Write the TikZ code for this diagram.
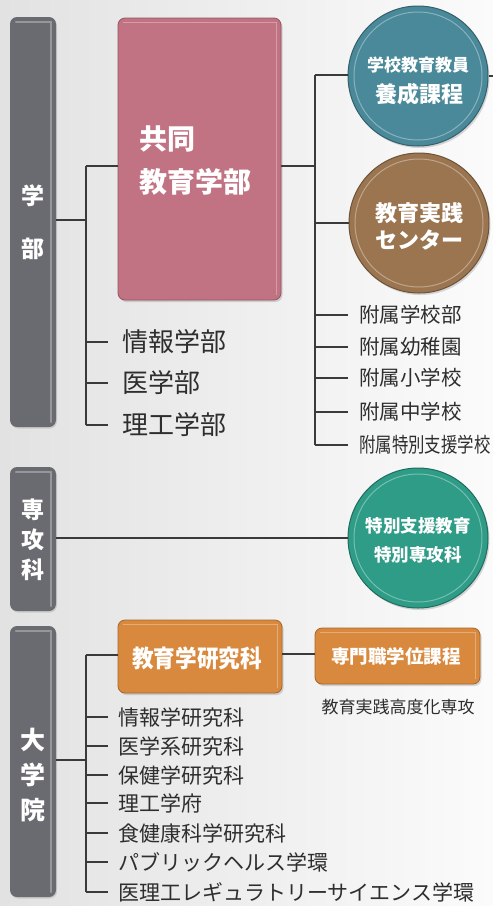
\documentclass[tikz,border=0pt]{standalone}
\usepackage{fontspec}
\setmainfont{Noto Sans CJK JP}
\usetikzlibrary{shadows}
\definecolor{bargray}{HTML}{6A6B70}
\definecolor{pinkc}{HTML}{C17383}
\definecolor{tealc}{HTML}{4A8999}
\definecolor{brownc}{HTML}{9B7550}
\definecolor{greenc}{HTML}{2E9C86}
\definecolor{orangec}{HTML}{D9893E}
\definecolor{linec}{HTML}{3A3A3A}
\definecolor{textc}{HTML}{2E2E2E}
\definecolor{bgl}{HTML}{E2E2E2}
\definecolor{bgr}{HTML}{FBFBFB}
\newcommand{\fs}[2]{\fontsize{#1}{#2}\selectfont}
\begin{document}
\begin{tikzpicture}[x=1pt,y=-1pt,
  conn/.style={draw=linec, line width=1.1pt},
  barbox/.style={fill=bargray, rounded corners=7pt, minimum width=46pt, inner sep=0pt,
    drop shadow={shadow xshift=1pt, shadow yshift=-1.5pt, opacity=0.25}},
  bartext/.style={text=white, align=center, inner sep=0pt},
  hl/.style={draw=white, draw opacity=0.3, line width=1.6pt, line cap=round},
  sq/.style={rounded corners=7pt, inner sep=0pt,
    drop shadow={shadow xshift=1.5pt, shadow yshift=-2pt, opacity=0.3}},
  ball/.style={circle, minimum size=140pt, inner sep=0pt,
    drop shadow={shadow xshift=1.5pt, shadow yshift=-2pt, opacity=0.3}},
  ring/.style={draw=white, draw opacity=0.35, line width=1pt},
  balltext/.style={text=white, align=center, inner sep=0pt},
  item/.style={anchor=west, inner sep=0pt, text=textc}
]
% background
\shade[left color=bgl, right color=bgr] (0,0) rectangle (493,906);
\useasboundingbox (0,0) rectangle (493,906);

% ---------- 学部 ----------
\node[barbox, minimum height=410pt] (gakubu) at (33,222) {};
\draw[hl] ([xshift=6pt,yshift=-5pt]gakubu.north west) -- ([xshift=-5pt,yshift=-5pt]gakubu.north east) -- ([xshift=-5pt,yshift=5pt]gakubu.south east);
\node[bartext, font=\fs{23}{53}\bfseries] (gakubut) at (33,222) {学\\部};

\node[sq, fill=pinkc, draw=pinkc!75!black, line width=0.8pt, minimum width=163pt, minimum height=282pt] (kyodo) at (199.5,159) {};
\draw[hl] ([xshift=6pt,yshift=-5pt]kyodo.north west) -- ([xshift=-5pt,yshift=-5pt]kyodo.north east) -- ([xshift=-5pt,yshift=6pt]kyodo.south east);
\node[anchor=west, align=left, inner sep=0pt, text=white, font=\fs{28}{43}\bfseries] (kyodot) at (139,161) {共同\\教育学部};

\coordinate (s1t) at (86,166);
\coordinate (s1b) at (86,425);
\draw[conn] (gakubu.east |- 0,220) -- (s1t |- 0,220);
\draw[conn] (s1t) -- (s1b);
\draw[conn] (s1t) -- (kyodo.west |- s1t);

\node[item, font=\fs{26}{26}] (joho) at (122,342) {情報学部};
\node[item, font=\fs{26}{26}] (igaku) at (122,383) {医学部};
\node[item, font=\fs{26}{26}] (riko) at (122,425) {理工学部};
\foreach \n in {joho,igaku,riko} \draw[conn] (s1t |- \n.west) -- ++(22,0);

% right spine
\coordinate (s2t) at (315,75);
\coordinate (s2b) at (315,445);
\draw[conn] (kyodo.east |- s1t) -- (s1t -| s2t);
\draw[conn] (s2t) -- (s2b);

\node[ball, fill=tealc, draw=tealc!70!black, line width=1pt] (teal) at (418,76) {};
\draw[ring] (teal.center) circle[radius=64];
\node[balltext, font=\fs{17}{17}\bfseries] (tealt1) at (418,65) {学校教育教員};
\node[balltext, font=\fs{22}{22}\bfseries] (tealt2) at (419,94) {養成課程};
\coordinate (redge) at (493,76);
\draw[conn] (s2t) -- (teal.west |- s2t);
\draw[conn] (teal.east) -- (redge);

\node[ball, fill=brownc, draw=brownc!70!black, line width=1pt] (brown) at (419,223) {};
\draw[ring] (brown.center) circle[radius=64];
\node[balltext, font=\fs{22}{27}\bfseries] (brownt) at (419,226) {教育実践\\センター};
\draw[conn] (s2t |- brown.west) -- (brown.west);

\node[item, font=\fs{20.5}{20}] (f1) at (359,315) {附属学校部};
\node[item, font=\fs{20.5}{20}] (f2) at (359,347) {附属幼稚園};
\node[item, font=\fs{20.5}{20}] (f3) at (359,378) {附属小学校};
\node[item, font=\fs{20.5}{20}] (f4) at (359,412) {附属中学校};
\node[item, font=\fs{20.5}{20}] (f5) at (359,445) {\scalebox{0.8}[1]{附属特別支援学校}};
\foreach \n in {f1,f2,f3,f4,f5} \draw[conn] (s2t |- \n.west) -- ++(33,0);

% ---------- 専攻科 ----------
\node[barbox, minimum height=144pt] (senko) at (33,539) {};
\draw[hl] ([xshift=6pt,yshift=-5pt]senko.north west) -- ([xshift=-5pt,yshift=-5pt]senko.north east) -- ([xshift=-5pt,yshift=5pt]senko.south east);
\node[bartext, font=\fs{23}{30}\bfseries] (senkot) at (33,540) {専\\攻\\科};

\node[ball, fill=greenc, draw=greenc!70!black, line width=1pt] (green) at (418,538) {};
\draw[ring] (green.center) circle[radius=64];
\node[balltext, font=\fs{17.5}{29}\bfseries] (greent) at (418,540) {特別支援教育\\特別専攻科};
\draw[conn] (senko.east |- green.west) -- (green.west);

% ---------- 大学院 ----------
\node[barbox, minimum height=271pt] (daigakuin) at (33,761.5) {};
\draw[hl] ([xshift=6pt,yshift=-5pt]daigakuin.north west) -- ([xshift=-5pt,yshift=-5pt]daigakuin.north east) -- ([xshift=-5pt,yshift=5pt]daigakuin.south east);
\node[bartext, font=\fs{25}{35}\bfseries] (daigakuint) at (33,775) {大\\学\\院};

\node[sq, fill=orangec, draw=orangec!75!black, line width=0.8pt, minimum width=164pt, minimum height=73pt] (kyoken) at (200,656.5) {};
\draw[hl] ([xshift=6pt,yshift=-5pt]kyoken.north west) -- ([xshift=-5pt,yshift=-5pt]kyoken.north east) -- ([xshift=-5pt,yshift=6pt]kyoken.south east);
\node[text=white, inner sep=0pt, font=\fs{24}{24}\bfseries] (kyokent) at (197,658) {\scalebox{0.9}[1]{教育学研究科}};

\node[sq, fill=orangec, draw=orangec!75!black, line width=0.8pt, minimum width=165pt, minimum height=56pt] (senmon) at (397.5,656) {};
\draw[hl] ([xshift=6pt,yshift=-5pt]senmon.north west) -- ([xshift=-5pt,yshift=-5pt]senmon.north east) -- ([xshift=-5pt,yshift=6pt]senmon.south east);
\node[text=white, inner sep=0pt, font=\fs{18.5}{18.5}\bfseries] (senmont) at (396,656) {専門職学位課程};
\node[inner sep=0pt, text=textc, font=\fs{17}{17}] (kodoka) at (398,707) {教育実践高度化専攻};
\draw[conn] (kyoken.east |- 0,654) -- (senmon.west |- 0,654);

\coordinate (s3t) at (86,655);
\coordinate (s3b) at (86,892);
\draw[conn] (daigakuin.east |- 0,760) -- (s3t |- 0,760);
\draw[conn] (s3t) -- (s3b);
\draw[conn] (s3t) -- (kyoken.west |- s3t);

\node[item, font=\fs{21}{21}] (g1) at (118,717) {情報学研究科};
\node[item, font=\fs{21}{21}] (g2) at (118,746) {医学系研究科};
\node[item, font=\fs{21}{21}] (g3) at (118,775) {保健学研究科};
\node[item, font=\fs{21}{21}] (g4) at (118,803) {理工学府};
\node[item, font=\fs{21}{21}] (g5) at (118,833) {食健康科学研究科};
\node[item, font=\fs{21}{21}] (g6) at (118,862) {パブリックヘルス学環};
\node[item, font=\fs{21}{21}] (g7) at (118,892) {医理工レギュラトリーサイエンス学環};
\foreach \n in {g1,g2,g3,g4,g5,g6,g7} \draw[conn] (s3t |- \n.west) -- ++(22,0);
\end{tikzpicture}
\end{document}
